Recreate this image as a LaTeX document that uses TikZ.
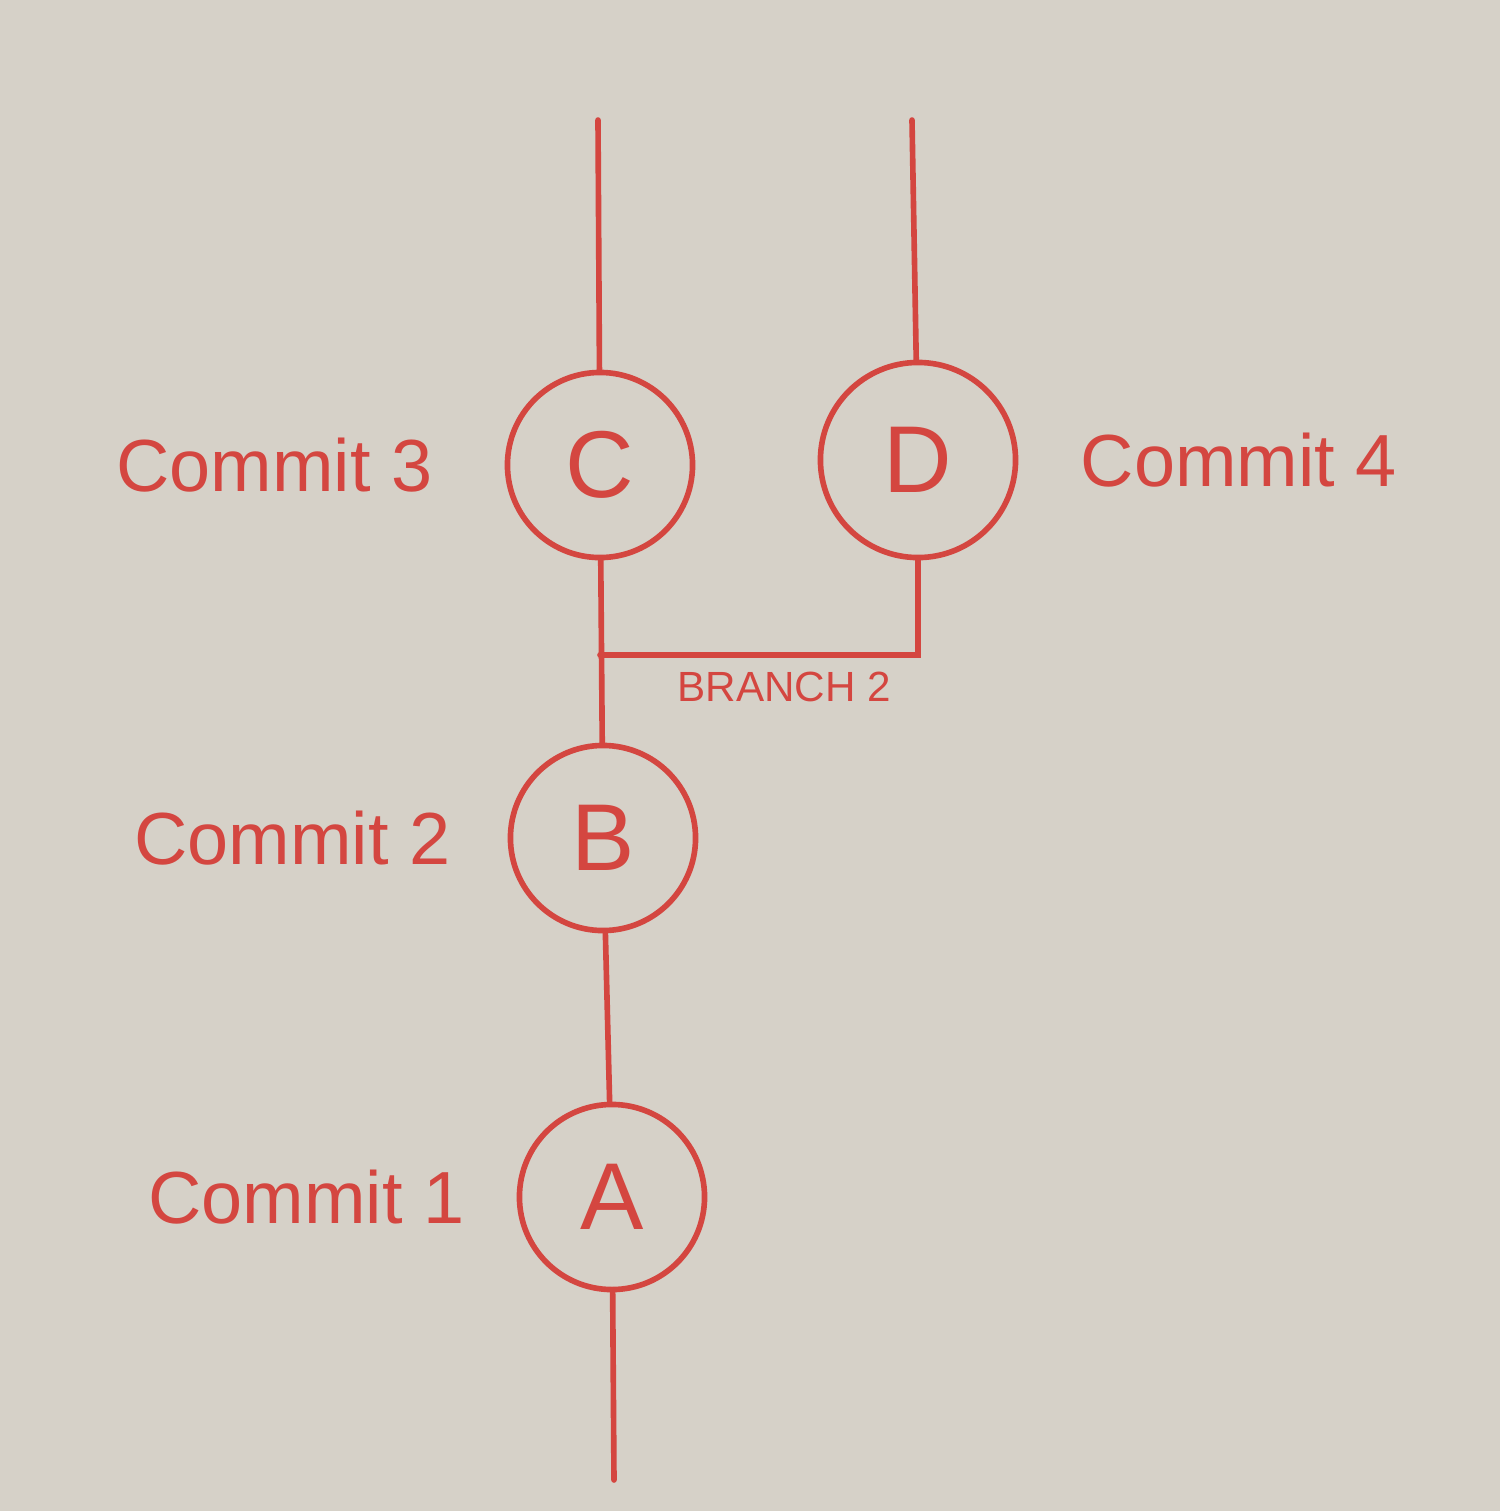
\documentclass[tikz,border=0pt]{standalone}
\usepackage{fontspec}
\setmainfont{Liberation Sans}
\usetikzlibrary{positioning}
\definecolor{marker}{RGB}{212,70,64}
\definecolor{board}{RGB}{214,209,200}

\begin{document}
\begin{tikzpicture}[x=0.01cm, y=-0.01cm,
    commit/.style={circle, draw=marker, line width=1.6pt, minimum size=1.85cm,
      text=marker, font=\fontsize{27}{31}\selectfont},
    tag/.style={text=marker, font=\fontsize{21}{25}\selectfont},
    edge/.style={draw=marker, line width=1.6pt, line cap=round}]
  \fill[board] (0,0) rectangle (1500,1511);

  \node[commit] (c) at (600,465) {C};
  \node[commit, minimum size=1.95cm] (d) at (918,460) {D};
  \node[commit] (b) at (603,838) {B};
  \node[commit] (a) at (612,1197) {A};

  \node[tag, left=0.6cm of c] (c3) {Commit 3};
  \node[tag, right=0.5cm of d] (c4) {Commit 4};
  \node[tag, left=0.45cm of b] (c2) {Commit 2};
  \node[tag, left=0.4cm of a] (c1) {Commit 1};

  \coordinate (ctop) at (598,120);
  \coordinate (dtop) at (912,120);
  \coordinate (abot) at (614,1480);
  \coordinate (fork) at (600,655);

  \draw[edge] (ctop) -- (c);
  \draw[edge] (dtop) -- (d);
  \draw[edge] (c) -- (b);
  \draw[edge] (b) -- (a);
  \draw[edge] (a) -- (abot);
  \draw[edge] (d) |- (fork);

  \node[text=marker, font=\fontsize{12}{14}\selectfont, below right=0.05cm and 0.65cm of fork] (br) {BRANCH 2};
\end{tikzpicture}
\end{document}
